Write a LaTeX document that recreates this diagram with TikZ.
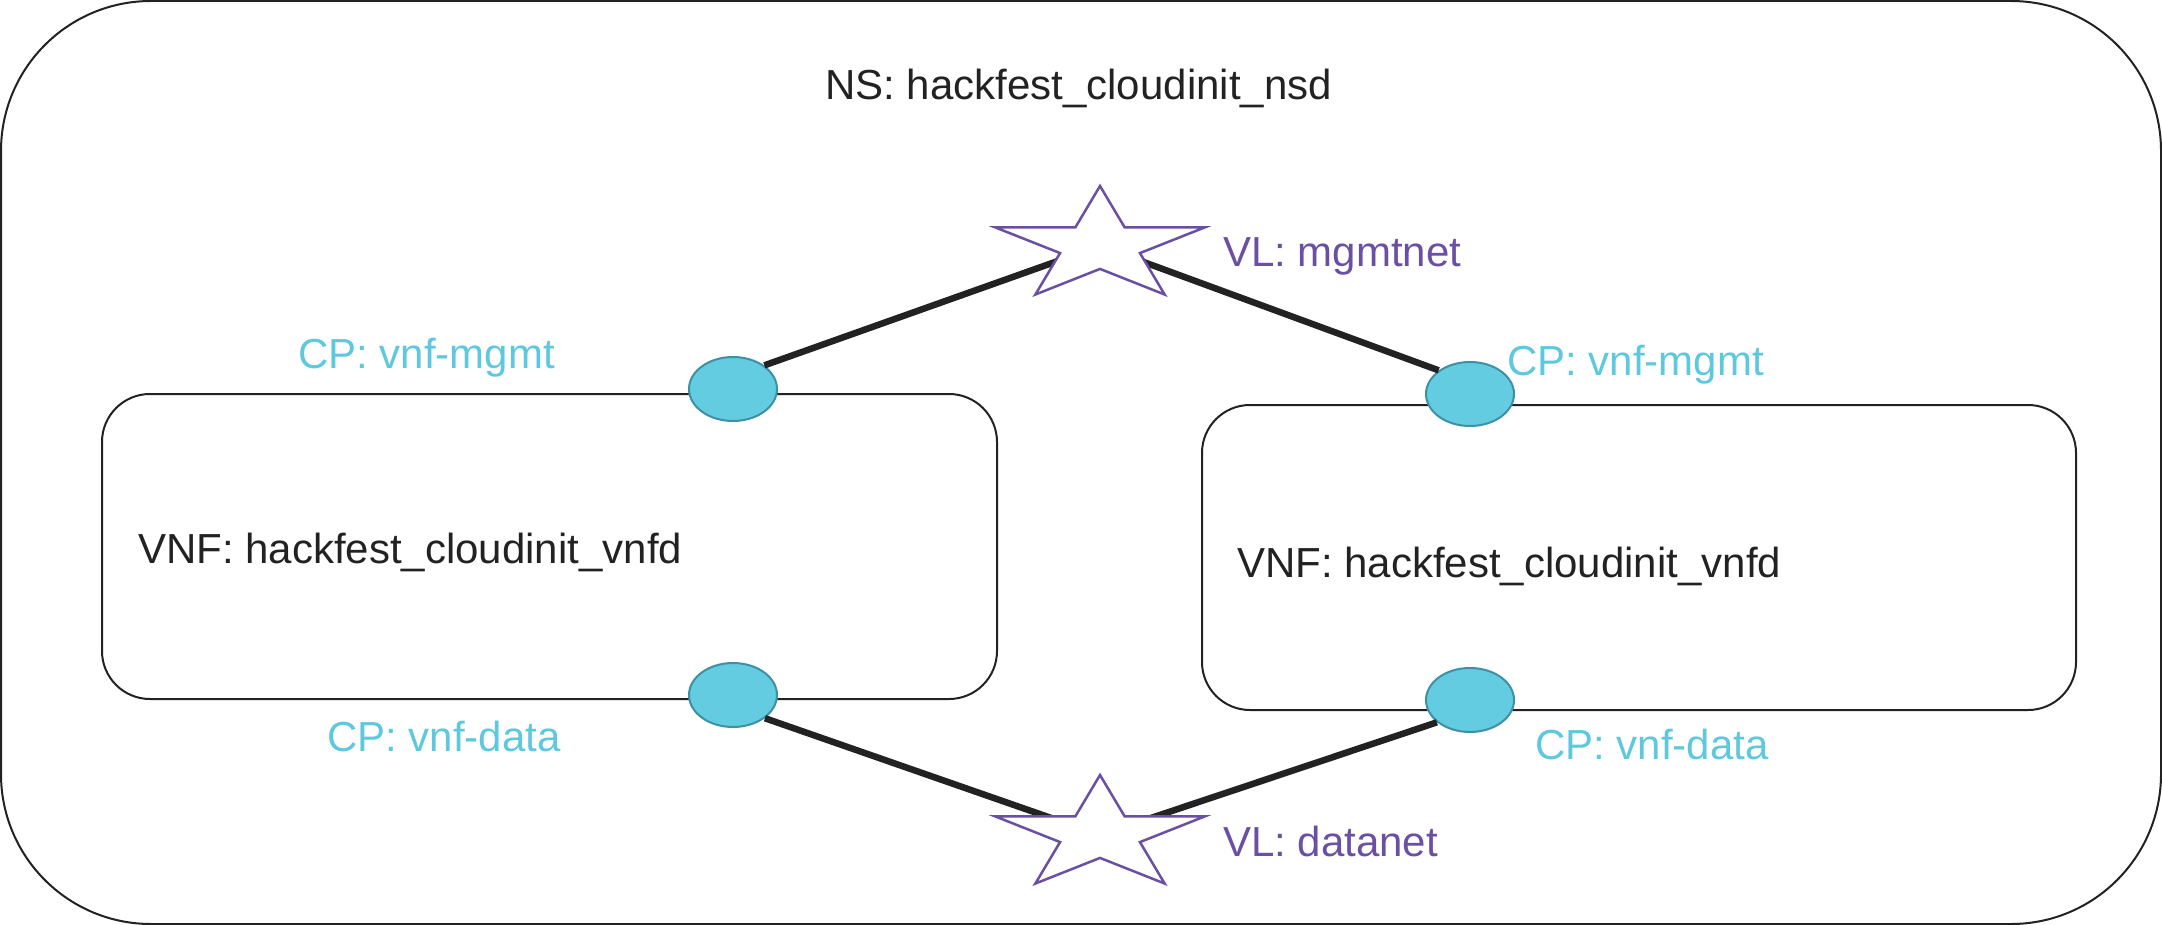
\documentclass[tikz,border=0pt]{standalone}
\usepackage{fontspec}
\setmainfont{Liberation Sans}
\usetikzlibrary{shapes.geometric}
\definecolor{cptext}{HTML}{5EC8DF}
\definecolor{cpfill}{HTML}{64CCE0}
\definecolor{cpdraw}{HTML}{3E90A5}
\definecolor{vlc}{HTML}{6A4FA3}
\definecolor{ink}{HTML}{222222}
\begin{document}
\begin{tikzpicture}[x=1pt,y=1pt,
  txt/.style={inner sep=0pt, font=\fontsize{42}{50}\selectfont, anchor=base west, text=ink},
  outerbox/.style={draw=ink, line width=2pt, rounded corners=150pt},
  vnfbox/.style={draw=ink, line width=2pt, rounded corners=48pt, rectangle, inner sep=0pt, minimum height=305pt},
  cp/.style={ellipse, draw=cpdraw, line width=2pt, fill=cpfill, minimum width=88pt, minimum height=64pt, inner sep=0pt},
  link/.style={draw=ink, line width=6.5pt},
  vlstar/.style={draw=vlc, line width=2.5pt, fill=white, line join=miter}
]
\useasboundingbox (0,0) rectangle (2162,-925);
% outer NS box
\draw[outerbox] (1,-1) rectangle (2161,-924);
% VNF boxes
\node[vnfbox, minimum width=895pt] (vnf1) at (549.5,-546.5) {};
\node[vnfbox, minimum width=874pt] (vnf2) at (1639,-557.5) {};
% connection points
\node[cp] (cpA) at (733,-389) {};
\node[cp] (cpB) at (1470,-394) {};
\node[cp] (cpC) at (733,-695) {};
\node[cp] (cpD) at (1470,-700) {};
% virtual link centres
\coordinate (vl1) at (1100,-246);
\coordinate (vl2) at (1100,-835);
% links
\draw[link] (cpA.37) -- (vl1);
\draw[link] (cpB.143) -- (vl1);
\draw[link] (cpC.-36) -- (vl2);
\draw[link] (cpD.214) -- (vl2);
% stars
\draw[vlstar, shift={(vl1)}, xscale=110, yscale=60] (90:1) -- (126:0.382) -- (162:1) -- (198:0.382) -- (234:1) -- (270:0.382) -- (306:1) -- (342:0.382) -- (18:1) -- (54:0.382) -- cycle;
\draw[vlstar, shift={(vl2)}, xscale=110, yscale=60] (90:1) -- (126:0.382) -- (162:1) -- (198:0.382) -- (234:1) -- (270:0.382) -- (306:1) -- (342:0.382) -- (18:1) -- (54:0.382) -- cycle;
% texts
\node[txt] (ns) at (825,-100) {NS: hackfest\_cloudinit\_nsd};
\node[txt] (vnf1t) at (138,-563) {VNF: hackfest\_cloudinit\_vnfd};
\node[txt] (vnf2t) at (1237,-577) {VNF: hackfest\_cloudinit\_vnfd};
\node[txt, text=cptext] (cpAt) at (298,-368) {CP: vnf-mgmt};
\node[txt, text=cptext] (cpCt) at (327,-751) {CP: vnf-data};
\node[txt, text=cptext] (cpBt) at (1507,-375) {CP: vnf-mgmt};
\node[txt, text=cptext] (cpDt) at (1535,-759) {CP: vnf-data};
\node[txt, text=vlc] (vl1t) at (1223,-267) {VL: mgmtnet};
\node[txt, text=vlc] (vl2t) at (1223,-856) {VL: datanet};
\end{tikzpicture}
\end{document}
